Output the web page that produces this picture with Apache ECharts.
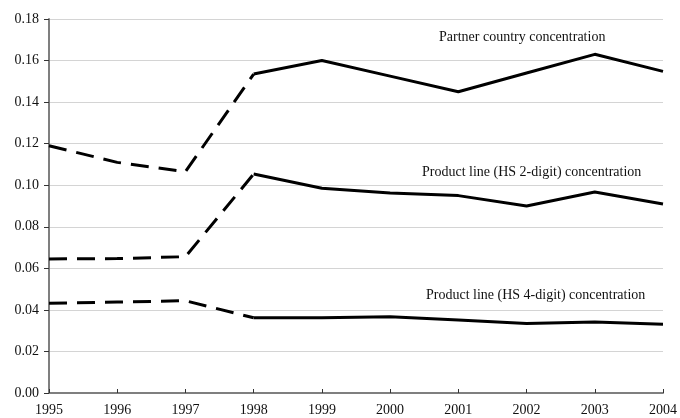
<!DOCTYPE html>
<html>

<head>
    <meta charset="utf-8" />
    <script src="https://cdn.jsdelivr.net/npm/echarts@6/dist/echarts.min.js"></script>
</head>

<body style="margin:0;">
    <div id="main" style="width: 680px; height: 418px;"></div>
    <script type="text/javascript">
        var myChart = echarts.init(document.getElementById('main'));

        // data
        var years = ['1995', '1996', '1997', '1998', '1999', '2000', '2001', '2002', '2003', '2004'];
        var partner = [0.119, 0.111, 0.1065, 0.1535, 0.160, 0.1525, 0.145, 0.154, 0.163, 0.1548];
        var hs2 = [0.0645, 0.0647, 0.0656, 0.1054, 0.0985, 0.0962, 0.095, 0.090, 0.0967, 0.091];
        var hs4 = [0.0432, 0.0438, 0.0444, 0.0362, 0.0362, 0.0367, 0.0351, 0.0334, 0.0342, 0.0331];
        var yTicks = [0, 0.02, 0.04, 0.06, 0.08, 0.10, 0.12, 0.14, 0.16, 0.18];
        var breakYear = '1998'; // dashed up to here, solid from here

        var breakIdx = years.indexOf(breakYear);
        function dashedPart(arr) {
            return arr.map(function (v, i) { return i <= breakIdx ? v : '-'; });
        }
        function solidPart(arr) {
            return arr.map(function (v, i) { return i >= breakIdx ? v : '-'; });
        }
        function pair(name, arr) {
            var base = { name: name, type: 'line', showSymbol: false, symbol: 'none', silent: true };
            return [
                Object.assign({}, base, { data: dashedPart(arr), lineStyle: { color: '#000', width: 3, type: [18, 10] } }),
                Object.assign({}, base, { data: solidPart(arr), lineStyle: { color: '#000', width: 3 } })
            ];
        }

        var font = "'Liberation Serif', 'Times New Roman', serif";
        var option = {
            animation: false,
            grid: { left: 49, right: 14, top: 19, bottom: 25 },
            xAxis: {
                type: 'category',
                data: years,
                boundaryGap: false,
                axisLine: { lineStyle: { color: '#7f7f7f', width: 2 } },
                axisTick: { inside: true, length: 4, lineStyle: { color: '#333', width: 1 } },
                axisLabel: { color: '#111', fontFamily: font, fontSize: 14, margin: 10, interval: 0 },
                splitLine: { show: false }
            },
            yAxis: {
                type: 'value',
                min: yTicks[0],
                max: yTicks[yTicks.length - 1],
                interval: 0.02,
                axisLine: { show: true, lineStyle: { color: '#7f7f7f', width: 2 } },
                axisTick: { show: true, length: 5, lineStyle: { color: '#333', width: 1 } },
                axisLabel: {
                    color: '#111', fontFamily: font, fontSize: 14, margin: 10,
                    formatter: function (v) { return v.toFixed(2); }
                },
                splitLine: { lineStyle: { color: '#d4d4d4', width: 1 } }
            },
            graphic: [
                { type: 'text', left: 439, top: 30, style: { text: 'Partner country concentration', font: '14px ' + font, fill: '#111' } },
                { type: 'text', left: 422, top: 165, style: { text: 'Product line (HS 2-digit) concentration', font: '14px ' + font, fill: '#111' } },
                { type: 'text', left: 426, top: 288, style: { text: 'Product line (HS 4-digit) concentration', font: '14px ' + font, fill: '#111' } }
            ],
            series: [].concat(
                pair('Partner country concentration', partner),
                pair('Product line (HS 2-digit) concentration', hs2),
                pair('Product line (HS 4-digit) concentration', hs4)
            )
        };

        myChart.setOption(option);
    </script>
</body>

</html>
